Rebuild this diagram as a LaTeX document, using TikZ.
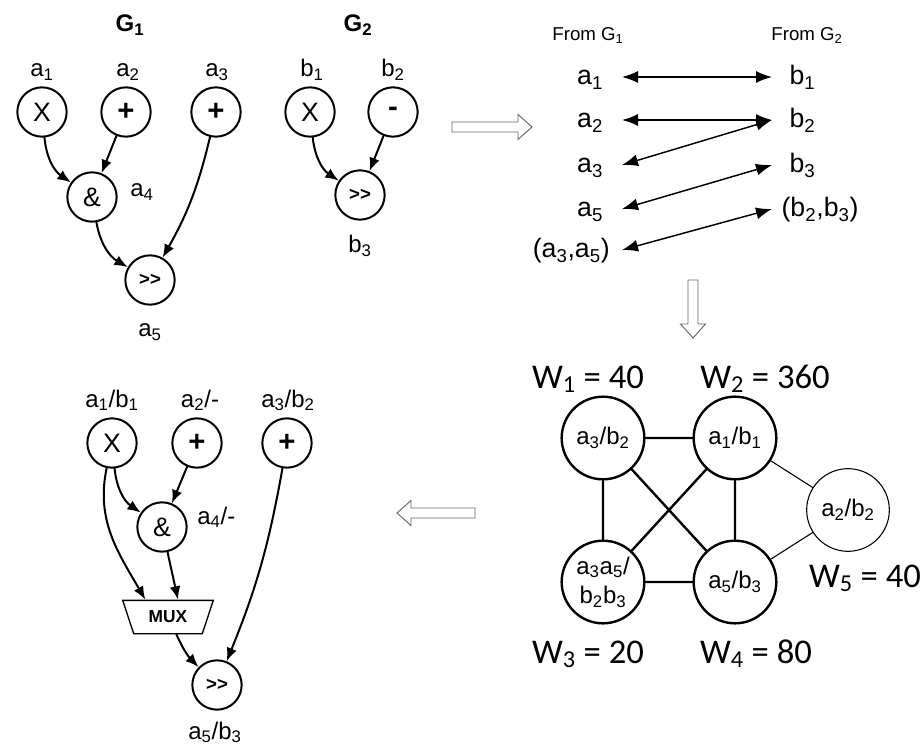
\documentclass[tikz,border=0pt]{standalone}
\usepackage{fontspec}
\setmainfont{Liberation Sans}
\newfontfamily\calibri{Carlito}
\usetikzlibrary{shapes.geometric,arrows.meta}
\newcommand{\ix}[1]{\textsubscript{#1}}

\begin{document}
\begin{tikzpicture}[x=0.75pt,y=-0.75pt,line cap=round]
	\tikzstyle{op}=[circle,draw,line width=1.5pt,minimum size=37pt,inner sep=0pt,font=\fontsize{20}{20}\selectfont];
	\tikzstyle{sign}=[font=\bfseries\fontsize{22}{22}\selectfont];
	\tikzstyle{small}=[font=\bfseries\fontsize{14}{14}\selectfont];
	\tikzstyle{lbl}=[anchor=base,inner sep=0pt,font=\fontsize{18}{18}\selectfont];
	\tikzstyle{title}=[anchor=base,inner sep=0pt,font=\bfseries\fontsize{18}{18}\selectfont];
	\tikzstyle{wire}=[line width=1.5pt,-{Latex[length=10pt,width=8pt]}];
	\tikzstyle{item}=[inner sep=0pt,text height=15pt,text depth=3pt,font=\fontsize{20}{20}\selectfont];
	\tikzstyle{pair}=[line width=1.1pt,{Latex[length=12pt,width=9pt]}-{Latex[length=12pt,width=9pt]}];
	\tikzstyle{grp}=[circle,draw,line width=1.8pt,minimum size=62pt,inner sep=0pt,align=center,font=\fontsize{18}{22}\selectfont];
	\tikzstyle{weight}=[anchor=base,inner sep=0pt,font=\calibri\fontsize{26}{26}\selectfont];
	\tikzstyle{hollow}=[draw=black!60,fill=white,line width=0.7pt,line cap=butt,line join=miter];
	\useasboundingbox (0,0) rectangle (924,748);
	%% first graph
	\node[title] (t1) at (130,32) {G\ix{1}};
	\node[lbl] (la1) at (42,77)  {a\ix{1}};
	\node[lbl] (la2) at (128,77) {a\ix{2}};
	\node[lbl] (la3) at (217,77) {a\ix{3}};
	\node[op] (x1) at (42,112)  {X};
	\node[op,sign] (p1) at (126,112) {+};
	\node[op,sign] (p2) at (216,112) {+};
	\node[op] (and1) at (92,197) {\&};
	\node[lbl,anchor=base west] (la4) at (130,197) {a\ix{4}};
	\node[op,small] (sh1) at (150,280) {>{}>};
	\node[lbl] (la5) at (150,337) {a\ix{5}};
	\draw[wire] (x1) to[bend right=25] (and1);
	\draw[wire] (p1) -- (and1);
	\draw[wire] (and1) to[bend right=25] (sh1);
	\draw[wire] (p2) to[bend left=8] (sh1);
	%% second graph
	\node[title] (t2) at (358,32) {G\ix{2}};
	\node[lbl] (lb1) at (312,77) {b\ix{1}};
	\node[lbl] (lb2) at (393,77) {b\ix{2}};
	\node[op] (x2) at (310,112) {X};
	\node[op,sign] (m2) at (393,112) {-};
	\node[op,small] (sh2) at (360,195) {>{}>};
	\node[lbl] (lb3) at (360,253) {b\ix{3}};
	\draw[wire] (x2) to[bend right=25] (sh2);
	\draw[wire] (m2) -- (sh2);
	%% hollow arrows
	\draw[hollow] (452,122) -- (518,122) -- (518,114.5) -- (532,127) -- (518,139.5) -- (518,132) -- (452,132) -- cycle;
	\draw[hollow] (688,280) -- (698,280) -- (698,324) -- (705.5,324) -- (693,338) -- (680.5,324) -- (688,324) -- cycle;
	\draw[hollow] (475,508) -- (411,508) -- (411,500.5) -- (397,513) -- (411,525.5) -- (411,518) -- (475,518) -- cycle;
	%% matching
	\node[lbl,font=\fontsize{14}{14}\selectfont] (f1) at (588,41) {From G\ix{1}};
	\node[lbl,font=\fontsize{14}{14}\selectfont] (f2) at (807,41) {From G\ix{2}};
	\node[item,anchor=east,inner xsep=14pt] (l1) at (622,77)  {a\ix{1}};
	\node[item,anchor=east,inner xsep=14pt] (l2) at (622,120) {a\ix{2}};
	\node[item,anchor=east,inner xsep=14pt] (l3) at (622,165) {a\ix{3}};
	\node[item,anchor=east,inner xsep=14pt] (l4) at (622,209) {a\ix{5}};
	\node[item,anchor=east,inner xsep=9pt]  (l5) at (622,250) {(a\ix{3},a\ix{5})};
	\node[item,anchor=west,inner xsep=13pt] (r1) at (772,77)  {b\ix{1}};
	\node[item,anchor=west,inner xsep=13pt] (r2) at (772,120) {b\ix{2}};
	\node[item,anchor=west,inner xsep=13pt] (r3) at (772,165) {b\ix{3}};
	\node[item,anchor=west,inner xsep=7pt]  (r4) at (772,209) {(b\ix{2},b\ix{3})};
	\draw[pair] (l1.east) -- (r1.west);
	\draw[pair] (l2.east) -- (r2.west);
	\draw[pair] (l3.east) -- (r2.west);
	\draw[pair] (l4.east) -- (r3.west);
	\draw[pair] (l5.east) -- (r4.west);
	%% compatibility graph
	\node[grp] (w1) at (603,438) {a\ix{3}/b\ix{2}};
	\node[grp] (w2) at (735,438) {a\ix{1}/b\ix{1}};
	\node[grp] (w3) at (603,582) {a\ix{3}a\ix{5}/\\b\ix{2}b\ix{3}};
	\node[grp] (w4) at (735,582) {a\ix{5}/b\ix{3}};
	\node[grp,line width=0.8pt] (w5) at (848,510) {a\ix{2}/b\ix{2}};
	\draw[line width=1.8pt] (w1) -- (w2) (w1) -- (w3) (w2) -- (w4) (w3) -- (w4) (w1) -- (w4) (w2) -- (w3);
	\draw[line width=0.8pt] (w2) -- (w5) (w4) -- (w5);
	\node[weight] (n1) at (588,388) {W\ix{1} = 40};
	\node[weight] (n2) at (765,388) {W\ix{2} = 360};
	\node[weight] (n3) at (588,663) {W\ix{3} = 20};
	\node[weight] (n4) at (756,663) {W\ix{4} = 80};
	\node[weight] (n5) at (865,587) {W\ix{5} = 40};
	%% merged graph
	\node[lbl] (lc1) at (112,407) {a\ix{1}/b\ix{1}};
	\node[lbl] (lc2) at (200,407) {a\ix{2}/-};
	\node[lbl] (lc3) at (288,407) {a\ix{3}/b\ix{2}};
	\node[op] (x3) at (112,443) {X};
	\node[op,sign] (p3) at (197,443) {+};
	\node[op,sign] (p4) at (287,443) {+};
	\node[op] (and3) at (162,527) {\&};
	\node[lbl,anchor=base west] (lc4) at (197,524) {a\ix{4}/-};
	\node[trapezium,draw,line width=1pt,shape border rotate=180,trapezium angle=63,trapezium stretches=true,minimum width=68pt,minimum height=25pt,inner sep=0pt,font=\bfseries\fontsize{13}{13}\selectfont] (mux) at (168,617) {MUX};
	\node[op,small] (sh3) at (217,685) {>{}>};
	\node[lbl] (lc5) at (215,739) {a\ix{5}/b\ix{3}};
	\draw[wire] (x3) to[bend right=25] (and3);
	\draw[wire] (p3) -- (and3);
	\draw[wire] (x3) to[out=-102,in=120] ([xshift=-17pt]mux.north);
	\draw[wire] (and3) -- ([xshift=7.5pt]mux.north);
	\draw[wire] (mux) to[bend right=10] (sh3);
	\draw[wire] (p4) to[bend left=6] (sh3);
\end{tikzpicture}
\end{document}
